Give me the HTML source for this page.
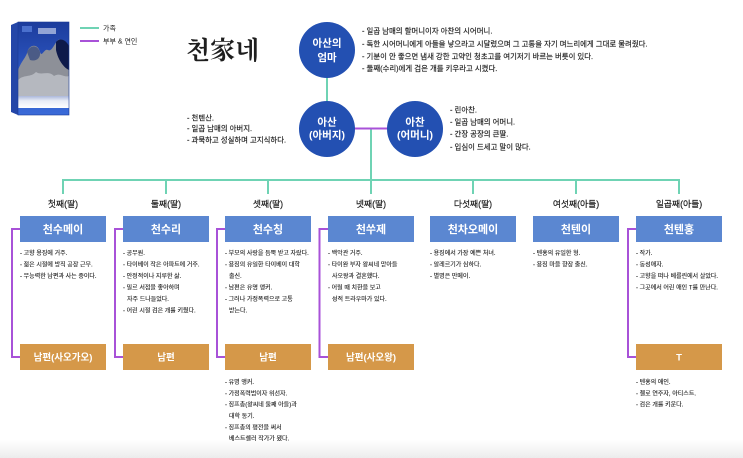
<!DOCTYPE html>
<html><head><meta charset="utf-8">
<style>
html,body{margin:0;padding:0;background:#fff;}
svg{display:block;}
text{font-family:"Liberation Sans","Noto Sans CJK KR",sans-serif;}
.t{font-size:7.4px;fill:#222;stroke:#222;stroke-width:0.15px;}
.s{font-size:6px;fill:#222;stroke:#222;stroke-width:0.12px;}
.g{font-size:8.8px;fill:#222;text-anchor:middle;stroke:#222;stroke-width:0.2px;}
.b{font-size:11px;fill:#fff;font-weight:bold;text-anchor:middle;}
.o{font-size:9.5px;fill:#fff;font-weight:bold;text-anchor:middle;}
.c{font-size:10.5px;fill:#fff;font-weight:bold;text-anchor:middle;}
</style></head>
<body>
<svg width="743" height="458" viewBox="0 0 743 458" xmlns="http://www.w3.org/2000/svg">
<defs>
<linearGradient id="bot" x1="0" y1="0" x2="0" y2="1">
<stop offset="0" stop-color="#ffffff"/><stop offset="1" stop-color="#ececec"/>
</linearGradient>
<linearGradient id="cov" x1="0" y1="0" x2="0" y2="1">
<stop offset="0" stop-color="#1c3c9c"/><stop offset="0.5" stop-color="#2c55c0"/><stop offset="1" stop-color="#3a6ad8"/>
</linearGradient>
<linearGradient id="snow" x1="0" y1="0" x2="0" y2="1">
<stop offset="0" stop-color="#5f76b8"/><stop offset="0.6" stop-color="#e8ecf6"/><stop offset="1" stop-color="#ffffff"/>
</linearGradient>
</defs>
<rect x="0" y="440" width="743" height="18" fill="url(#bot)"/>

<!-- book cover -->
<polygon points="11,25 18,22 18,115 11,112" fill="#2446a8"/>
<rect x="18" y="22" width="51" height="93" fill="url(#cov)"/>
<rect x="18" y="90" width="51" height="18" fill="url(#snow)"/>
<path d="M18,70 C22,60 26,58 28,50 C31,44 38,44 40,52 C42,58 44,48 48,50 C52,52 54,44 58,40 C62,38 66,42 69,48 L69,95 L18,95 Z" fill="#8d9098"/>
<path d="M27,52 C30,45 37,44 40,52 C41,58 36,62 30,60 Z" fill="#4b5b86"/>
<path d="M56,42 C60,37 66,40 69,46 L69,70 C64,68 58,60 56,50 Z" fill="#0e1a4a"/>
<path d="M18,80 C24,74 30,78 36,72 C42,76 48,70 54,76 C60,72 64,78 69,76 L69,96 L18,96 Z" fill="#b5b8bf"/>
<rect x="22" y="26" width="10" height="6" fill="#5d84e0" opacity="0.7"/>
<rect x="38" y="28" width="18" height="6" fill="#dfe6f7" opacity="0.6"/>
<rect x="18" y="22" width="51" height="93" fill="none" stroke="#1a3a96" stroke-width="0.6"/>

<!-- legend -->
<line x1="80" y1="28" x2="99" y2="28" stroke="#6fd3b4" stroke-width="2"/>
<text x="103" y="30.5" style="font-size:7px;fill:#222">가족</text>
<line x1="80" y1="41" x2="99" y2="41" stroke="#a852d8" stroke-width="2"/>
<text x="103" y="43.5" style="font-size:7px;fill:#222">부부 &amp; 연인</text>

<!-- title -->
<text x="186" y="59" style="font-family:'Liberation Serif','Noto Serif CJK KR',serif;font-size:25px;font-weight:bold;fill:#1e1e1e">천家네</text>

<!-- connectors -->
<line x1="327" y1="76" x2="327" y2="104" stroke="#6fd3b4" stroke-width="2"/>
<line x1="371" y1="129" x2="371" y2="181" stroke="#6fd3b4" stroke-width="2"/>
<line x1="354" y1="128.5" x2="388" y2="128.5" stroke="#a852d8" stroke-width="2"/>
<path d="M63,194 V180 H679 V194" fill="none" stroke="#6fd3b4" stroke-width="2"/>
<g stroke="#6fd3b4" stroke-width="2">
<line x1="166" y1="180" x2="166" y2="194"/>
<line x1="268" y1="180" x2="268" y2="194"/>
<line x1="371" y1="180" x2="371" y2="194"/>
<line x1="473" y1="180" x2="473" y2="194"/>
<line x1="576" y1="180" x2="576" y2="194"/>
</g>
<g fill="none" stroke="#a852d8" stroke-width="2">
<path d="M20,229 H12 V357 H20"/>
<path d="M123,229 H115 V357 H123"/>
<path d="M225,229 H217 V357 H225"/>
<path d="M328,229 H319.5 V357 H328"/>
<path d="M636,229 H628 V357 H636"/>
</g>

<!-- circles -->
<circle cx="327" cy="50" r="28" fill="#2350b2"/>
<text class="c" x="327" y="46.5">아산의</text>
<text class="c" x="327" y="61">엄마</text>
<circle cx="327" cy="129" r="28" fill="#2350b2"/>
<text class="c" x="327" y="125.5">아산</text>
<text class="c" x="327" y="138.5">(아버지)</text>
<circle cx="415" cy="129" r="28" fill="#2350b2"/>
<text class="c" x="415" y="125.5">아찬</text>
<text class="c" x="415" y="138.5">(어머니)</text>

<!-- top texts -->
<text class="t" x="362" y="33.6">- 일곱 남매의 할머니이자 아찬의 시어머니.</text>
<text class="t" x="362" y="46.4">- 독한 시어머니에게 아들을 낳으라고 시달렸으며 그 고통을 자기 며느리에게 그대로 물려줬다.</text>
<text class="t" x="362" y="59">- 기분이 안 좋으면 냄새 강한 고약인 청초고를 여기저기 바르는 버릇이 있다.</text>
<text class="t" x="362" y="71.2">- 둘째(수리)에게 검은 개를 키우라고 시켰다.</text>

<text class="t" x="187" y="120.4">- 천텐산.</text>
<text class="t" x="187" y="131">- 일곱 남매의 아버지.</text>
<text class="t" x="187" y="142.6">- 과묵하고 성실하며 고지식하다.</text>

<text class="t" x="450" y="112.6">-  린아찬.</text>
<text class="t" x="450" y="124.6">- 일곱 남매의 어머니.</text>
<text class="t" x="450" y="136.6">- 간장 공장의 큰딸.</text>
<text class="t" x="450" y="149.4">- 입심이 드세고 말이 많다.</text>

<!-- generation labels -->
<text class="g" x="63" y="207">첫째(딸)</text>
<text class="g" x="166" y="207">둘째(딸)</text>
<text class="g" x="268" y="207">셋째(딸)</text>
<text class="g" x="371" y="207">넷째(딸)</text>
<text class="g" x="473" y="207">다섯째(딸)</text>
<text class="g" x="576" y="207">여섯째(아들)</text>
<text class="g" x="679" y="207">일곱째(아들)</text>

<!-- blue boxes -->
<g fill="#5b87d1">
<rect x="20" y="216" width="86" height="26"/>
<rect x="123" y="216" width="86" height="26"/>
<rect x="225" y="216" width="86" height="26"/>
<rect x="328" y="216" width="86" height="26"/>
<rect x="430" y="216" width="86" height="26"/>
<rect x="533" y="216" width="86" height="26"/>
<rect x="636" y="216" width="86" height="26"/>
</g>
<text class="b" x="63" y="233">천수메이</text>
<text class="b" x="166" y="233">천수리</text>
<text class="b" x="268" y="233">천수칭</text>
<text class="b" x="371" y="233">천쑤제</text>
<text class="b" x="473" y="233">천차오메이</text>
<text class="b" x="576" y="233">천텐이</text>
<text class="b" x="679" y="233">천텐훙</text>

<!-- orange boxes -->
<g fill="#d59849">
<rect x="20" y="344" width="86" height="26"/>
<rect x="123" y="344" width="86" height="26"/>
<rect x="225" y="344" width="86" height="26"/>
<rect x="328" y="344" width="86" height="26"/>
<rect x="636" y="344" width="86" height="26"/>
</g>
<text class="o" x="63" y="360.5">남편(사오가오)</text>
<text class="o" x="166" y="360.5">남편</text>
<text class="o" x="268" y="360.5">남편</text>
<text class="o" x="371" y="360.5">남편(사오왕)</text>
<text class="o" x="679" y="360.5">T</text>

<!-- column texts -->
<g>
<text class="s" x="20" y="255">- 고향 용징에 거주.</text>
<text class="s" x="20" y="266.5">- 젊은 시절에 방직 공장 근무.</text>
<text class="s" x="20" y="278">- 무능력한 남편과 사는 중이다.</text>

<text class="s" x="123" y="255">- 공무원.</text>
<text class="s" x="123" y="266.5">- 타이베이 작은 아파트에 거주.</text>
<text class="s" x="123" y="278">- 안정적이나 지루한 삶.</text>
<text class="s" x="123" y="289.5">- 밀르 서점을 좋아하며</text>
<text class="s" x="127" y="301">자주 드나들었다.</text>
<text class="s" x="123" y="312.5">- 어린 시절 검은 개를 키웠다.</text>

<text class="s" x="225" y="255">- 부모의 사랑을 듬뿍 받고 자랐다.</text>
<text class="s" x="225" y="266.5">- 용징의 유일한 타이베이 대학</text>
<text class="s" x="229" y="278">출신.</text>
<text class="s" x="225" y="289.5">- 남편은 유명 앵커.</text>
<text class="s" x="225" y="301">- 그러나 가정폭력으로 고통</text>
<text class="s" x="229" y="312.5">받는다.</text>

<text class="s" x="328" y="255">- 백악관 거주.</text>
<text class="s" x="328" y="266.5">- 타이완 부자 왕씨네 맏아들</text>
<text class="s" x="332" y="278">사오왕과 결혼했다.</text>
<text class="s" x="328" y="289.5">- 어릴 때 치한을 보고</text>
<text class="s" x="332" y="301">성적 트라우마가 있다.</text>

<text class="s" x="430" y="255">- 용징에서 가장 예쁜 처녀.</text>
<text class="s" x="430" y="266.5">- 알레르기가 심하다.</text>
<text class="s" x="430" y="278">- 별명은 만메이.</text>

<text class="s" x="533" y="255">- 텐훙의 유일한 형.</text>
<text class="s" x="533" y="266.5">- 용징 마을 향장 출신.</text>

<text class="s" x="636" y="255">- 작가.</text>
<text class="s" x="636" y="266.5">- 동성애자.</text>
<text class="s" x="636" y="278">- 고향을 떠나 베를린에서 살았다.</text>
<text class="s" x="636" y="289.5">- 그곳에서 어린 애인 T를 만난다.</text>

<text class="s" x="225" y="384">- 유명 앵커.</text>
<text class="s" x="225" y="395.3">- 가정폭력범이자 위선자.</text>
<text class="s" x="225" y="406.6">- 징프총(왕씨네 둘째 아들)과</text>
<text class="s" x="229" y="418">대학 동기.</text>
<text class="s" x="225" y="429.3">- 징프총의 평전을 써서</text>
<text class="s" x="229" y="440.6">베스트셀러 작가가 됐다.</text>

<text class="s" x="636" y="384">- 텐훙의 애인.</text>
<text class="s" x="636" y="395.3">- 첼로 연주자, 아티스트.</text>
<text class="s" x="636" y="406.6">- 검은 개를 키운다.</text>
</g>
</svg>
</body></html>
